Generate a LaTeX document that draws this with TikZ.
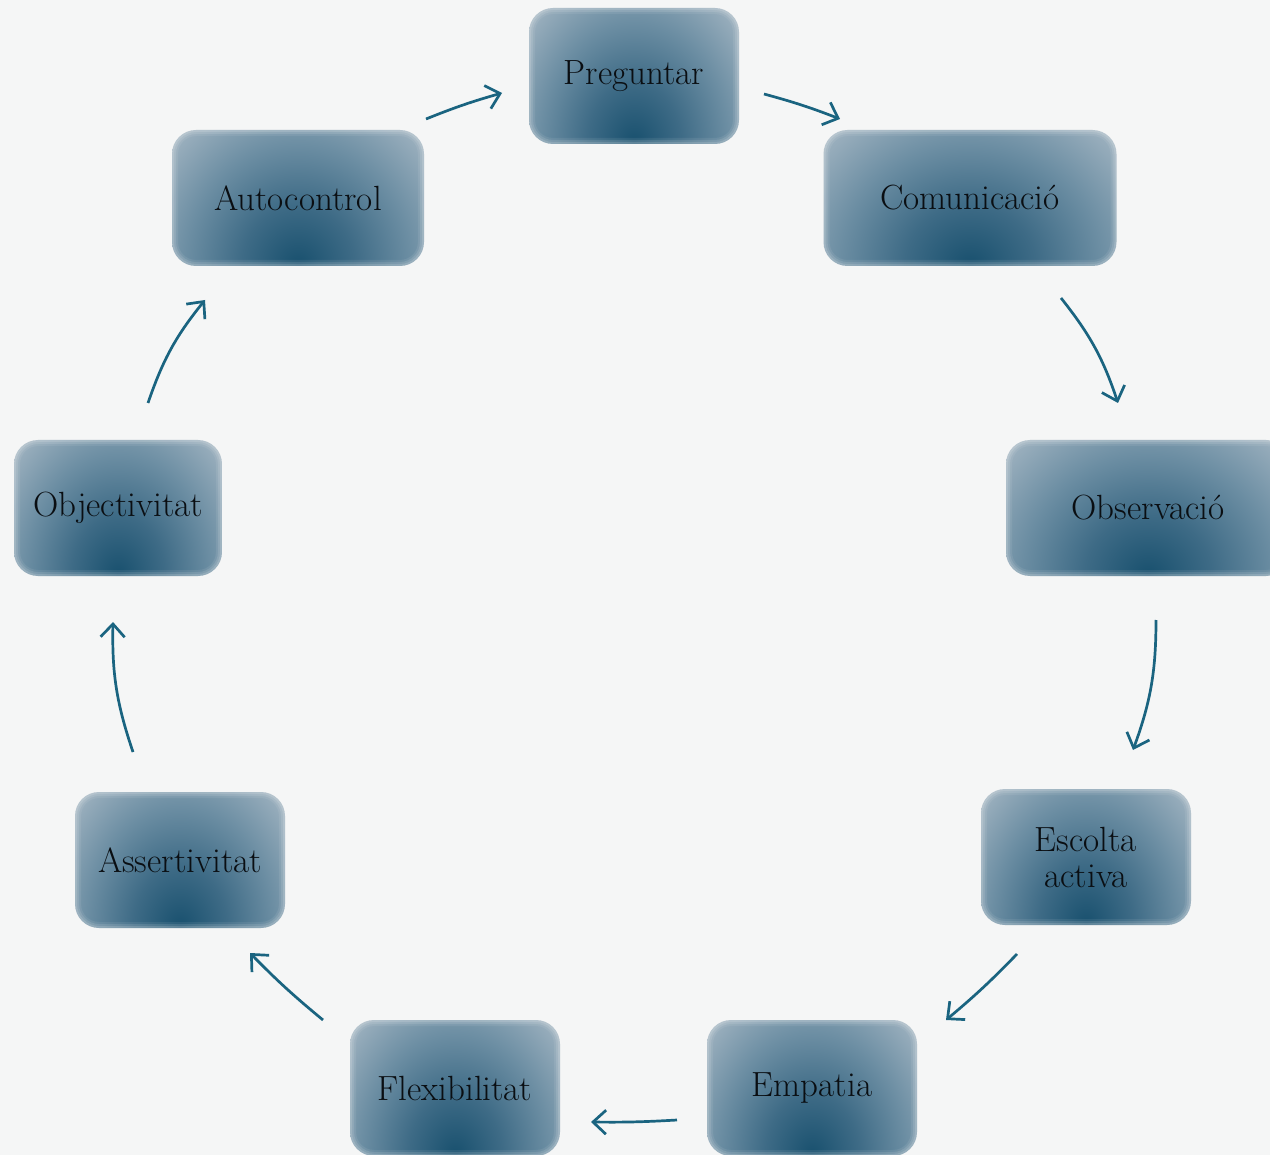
\documentclass[tikz,border=0pt]{standalone}
\usepackage{fontspec}
\usetikzlibrary{calc,arrows.meta}

\definecolor{paper}{RGB}{245,246,246}
\definecolor{glowdark}{RGB}{24,80,110}
\definecolor{glowmid}{RGB}{62,107,134}
\definecolor{glowsoft}{RGB}{108,142,163}
\definecolor{glowpale}{RGB}{150,172,187}
\definecolor{glowedge}{RGB}{176,192,202}
\definecolor{flowc}{RGB}{26,100,128}
\definecolor{inkc}{RGB}{10,14,18}

% radial glow, darkest at its centre; 25bp is the rim of the shaded path
\pgfdeclareradialshading{boxglow}{\pgfpoint{0bp}{0bp}}{%
  color(0bp)=(glowdark);
  color(7bp)=(glowmid);
  color(14bp)=(glowsoft);
  color(20bp)=(glowpale);
  color(25bp)=(glowedge);
  color(50bp)=(glowedge)}

\tikzset{
  stepbox/.style={
    rounded corners=24pt,
    minimum height=136pt,
    inner sep=0pt,
    text=inkc,
    align=center,
    font=\fontsize{35}{36}\selectfont,
    path picture={
      \path let \p1=($(path picture bounding box.north east)-(path picture bounding box.south west)$) in
        \pgfextra{\shade[shading=boxglow] (path picture bounding box.south) ellipse ({0.8*\x1} and {1.6*\y1});};
    },
    % gently feathered rim
    postaction={draw=paper, draw opacity=.08, line width=12pt},
    postaction={draw=paper, draw opacity=.12, line width=8pt},
    postaction={draw=paper, draw opacity=.16, line width=4pt}
  },
  flow/.style={
    draw=flowc,
    line width=2.7pt,
    -{Straight Barb[length=13pt,width=24pt]}
  }
}

\begin{document}
\begin{tikzpicture}[x=1pt,y=1pt]
  \useasboundingbox (0,0) rectangle (1270,-1155);
  \clip (0,0) rectangle (1270,-1155);
  \fill[paper] (0,0) rectangle (1270,-1155);

  % the nine skills around the ring
  \node[stepbox, minimum width=210pt] (preg) at (634,-76)  {Preguntar};
  \node[stepbox, minimum width=293pt] (com)  at (970,-198) {Comunicació};
  \node[stepbox, minimum width=284pt] (obs)  at (1148,-508) {Observació};
  \node[stepbox, minimum width=210pt] (esc)  at (1086,-857) {Escolta\\activa};
  \node[stepbox, minimum width=210pt] (emp)  at (812,-1088) {Empatia};
  \node[stepbox, minimum width=210pt] (flex) at (455,-1088) {Flexibilitat};
  \node[stepbox, minimum width=210pt] (ass)  at (180,-860) {Assertivitat};
  \node[stepbox, minimum width=208pt] (obj)  at (118,-508) {Objectivitat};
  \node[stepbox, minimum width=252pt] (auto) at (298,-198) {Autocontrol};

  % arrow ends between neighbouring boxes
  \coordinate (a1) at (426,-119);  \coordinate (b1) at (502,-93);
  \coordinate (a2) at (764,-94);   \coordinate (b2) at (840,-119);
  \coordinate (a3) at (1061,-298); \coordinate (b3) at (1118,-403);
  \coordinate (a4) at (1156,-620); \coordinate (b4) at (1133,-750);
  \coordinate (a5) at (1017,-954); \coordinate (b5) at (946,-1020);
  \coordinate (a6) at (677,-1120); \coordinate (b6) at (591,-1122);
  \coordinate (a7) at (323,-1020); \coordinate (b7) at (250,-953);
  \coordinate (a8) at (133,-752);  \coordinate (b8) at (113,-622);
  \coordinate (a9) at (148,-403);  \coordinate (b9) at (205,-300);

  \draw[flow] (a1) to[bend left=3]  (b1);
  \draw[flow] (a2) to[bend left=3]  (b2);
  \draw[flow] (a3) to[bend left=10] (b3);
  \draw[flow] (a4) to[bend left=10] (b4);
  \draw[flow] (a5) to[bend left=3]  (b5);
  \draw[flow] (a6) to[bend left=2]  (b6);
  \draw[flow] (a7) to[bend left=3]  (b7);
  \draw[flow] (a8) to[bend left=10] (b8);
  \draw[flow] (a9) to[bend left=10] (b9);
\end{tikzpicture}
\end{document}
